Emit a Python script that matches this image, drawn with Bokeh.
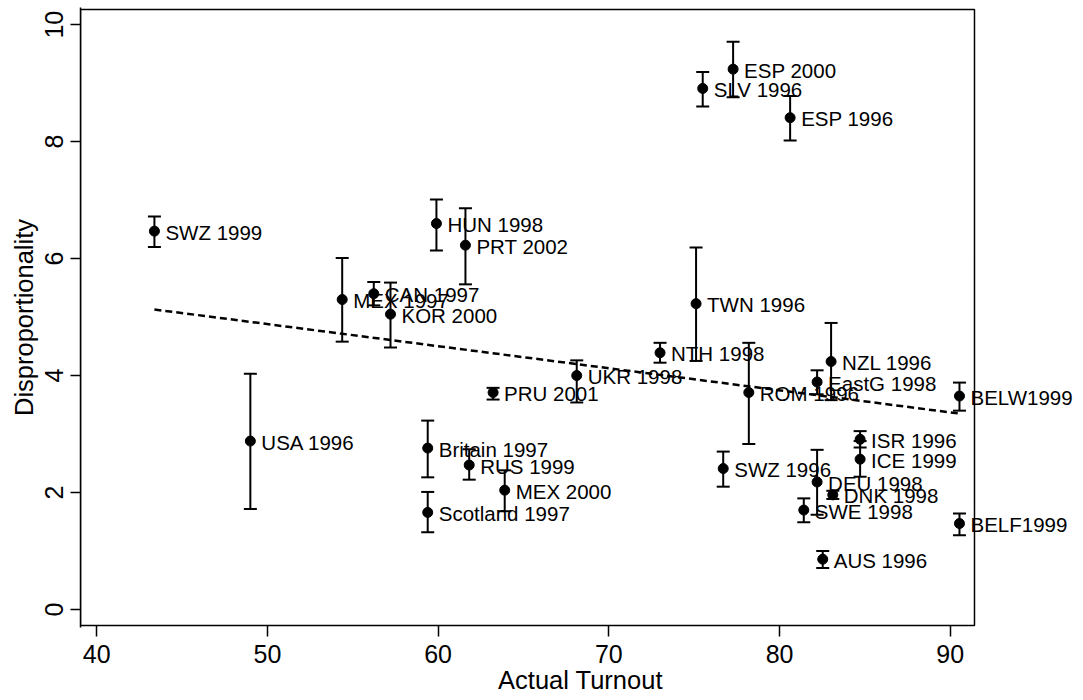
from bokeh.plotting import figure
from bokeh.models import ColumnDataSource, Whisker, TeeHead, FixedTicker, Range1d, LabelSet
from bokeh.core.properties import value
from bokeh.embed import file_html
from bokeh.resources import INLINE

names = ["SWZ 1999", "USA 1996", "MEX 1997", "CAN 1997", "KOR 2000", "HUN 1998",
         "Britain 1997", "Scotland 1997", "PRT 2002", "RUS 1999", "PRU 2001", "MEX 2000",
         "UKR 1998", "NTH 1998", "TWN 1996", "SLV 1996", "SWZ 1996", "ESP 2000",
         "ROM 1996", "ESP 1996", "SWE 1998", "EastG 1998", "DEU 1998", "AUS 1996",
         "NZL 1996", "DNK 1998", "ISR 1996", "ICE 1999", "BELW1999", "BELF1999"]
turnout = [43.38, 49.00, 54.38, 56.23, 57.21, 59.90,
           59.39, 59.39, 61.60, 61.82, 63.22, 63.90,
           68.12, 73.00, 75.11, 75.50, 76.70, 77.28,
           78.20, 80.62, 81.42, 82.20, 82.20, 82.53,
           83.02, 83.12, 84.72, 84.72, 90.54, 90.54]
disprop = [6.47, 2.88, 5.30, 5.40, 5.05, 6.60,
           2.76, 1.66, 6.23, 2.47, 3.71, 2.04,
           4.00, 4.39, 5.23, 8.91, 2.41, 9.24,
           3.71, 8.41, 1.70, 3.89, 2.18, 0.86,
           4.24, 1.96, 2.91, 2.57, 3.65, 1.47]
lower = [6.20, 1.72, 4.58, 5.20, 4.48, 6.14,
         2.26, 1.32, 5.56, 2.22, 3.59, 1.68,
         3.54, 4.22, 4.25, 8.60, 2.10, 8.76,
         2.83, 8.02, 1.49, 3.68, 1.62, 0.71,
         3.58, 1.89, 2.77, 2.27, 3.40, 1.27]
upper = [6.72, 4.03, 6.01, 5.60, 5.59, 7.01,
         3.23, 2.01, 6.86, 2.74, 3.79, 2.38,
         4.26, 4.56, 6.19, 9.19, 2.70, 9.71,
         4.56, 8.78, 1.90, 4.09, 2.73, 1.00,
         4.90, 2.03, 3.05, 2.88, 3.88, 1.64]

fit_x = [43.38, 90.54]
fit_y = [5.13, 3.35]

x_ticks = [40, 50, 60, 70, 80, 90]
y_ticks = [0, 2, 4, 6, 8, 10]

# plot box limits (data units)
box_x = [39.05, 91.42]
box_y = [-0.274, 10.26]

src = ColumnDataSource(dict(x=turnout, y=disprop, lo=lower, hi=upper, name=names))

FONT = "Liberation Sans"

p = figure(width=1080, height=698,
           x_range=Range1d(39.05, 97.63), y_range=Range1d(-0.308, 10.294),
           output_backend="svg", toolbar_location=None,
           min_border_left=80, min_border_top=7, min_border_right=0, min_border_bottom=71)
p.grid.visible = False
p.background_fill_color = "white"
p.border_fill_color = "white"
p.outline_line_color = None

for ax, ticks in ((p.xaxis, x_ticks), (p.yaxis, y_ticks)):
    ax.ticker = FixedTicker(ticks=ticks)
    ax.major_tick_line_width = 1.5
    ax.minor_tick_line_color = None
    ax.axis_line_width = 1.5
    ax.major_label_text_font = FONT
    ax.major_label_text_font_size = "25px"
    ax.major_label_text_color = "black"
    ax.axis_label_text_font = FONT
    ax.axis_label_text_font_size = "25.5px"
    ax.axis_label_text_font_style = "normal"
    ax.axis_label_text_color = "black"

p.xaxis.axis_line_color = None
p.xaxis.major_tick_out = 9
p.xaxis.major_tick_in = 2
p.yaxis.major_tick_out = 10
p.yaxis.major_tick_in = 0

p.xaxis.major_label_standoff = 8
p.xaxis.axis_label_standoff = 0
p.yaxis.major_label_standoff = 7
p.yaxis.axis_label_standoff = 5

p.xaxis.axis_label = "Actual Turnout"
p.yaxis.axis_label = "Disproportionality"
p.yaxis.major_label_orientation = "vertical"

p.quad(left=[box_x[0]], right=[box_x[1]], bottom=[box_y[0]], top=[box_y[1]],
       fill_color=None, line_color="black", line_width=1.5)

p.line(fit_x, fit_y, line_color="black", line_width=2.5, line_dash="7 4")

wh = Whisker(source=src, base="x", lower="lo", upper="hi", dimension="height",
             line_color="black", line_width=2,
             lower_head=TeeHead(size=13, line_width=2, line_color="black"),
             upper_head=TeeHead(size=13, line_width=2, line_color="black"))
p.add_layout(wh)

p.scatter(x="x", y="y", source=src, size=10, marker="circle",
          fill_color="black", line_color="black")

labels = LabelSet(x="x", y="y", text="name", source=src, x_offset=11, y_offset=-1,
                  text_font=value(FONT), text_font_size=value("20.5px"), text_color="black",
                  text_baseline="middle", text_align="left")
p.add_layout(labels)

open("out.html", "w").write(file_html(p, INLINE))
